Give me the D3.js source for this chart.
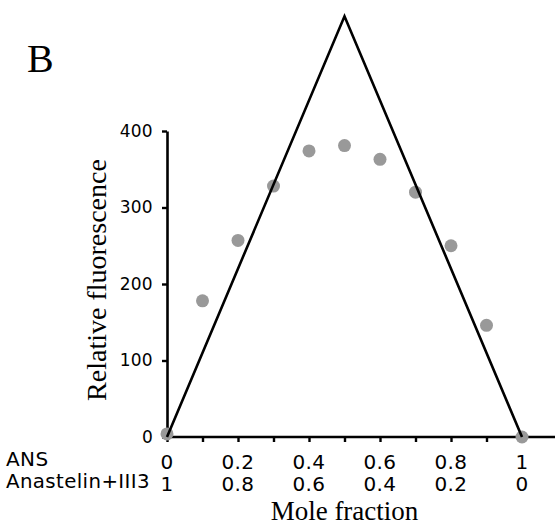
<!DOCTYPE html>
<html>
<head>
<meta charset="utf-8">
<script src="https://cdn.jsdelivr.net/npm/d3@7"></script>
<style>
  body { margin: 0; background: #fff; }
  svg { display: block; }
  .serif { font-family: "Liberation Serif", "Times New Roman", serif; }
  .sans { font-family: "DejaVu Sans", Verdana, sans-serif; }
</style>
</head>
<body>
<div id="chart"></div>
<script>
// Mole fraction of ANS
var moleFraction = [0, 0.1, 0.2, 0.3, 0.4, 0.5, 0.6, 0.7, 0.8, 0.9, 1];
// Measured fluorescence (grey dots)
var fluorescence = [4, 178, 257, 328, 374, 381, 363, 320, 250, 146, 0];
// Ideal triangle (black line)
var idealX = [0, 0.5, 1];
var idealY = [0, 550, 0];
// Axis ticks
var xTicks = [0, 0.1, 0.2, 0.3, 0.4, 0.5, 0.6, 0.7, 0.8, 0.9, 1];
var xLabelTicks = [0, 0.2, 0.4, 0.6, 0.8, 1];
var yTicks = [0, 100, 200, 300, 400];

var W = 555, H = 527;

var svg = d3.select('#chart').append('svg')
  .attr('width', W)
  .attr('height', H);

var x = d3.scaleLinear().domain([0, 1]).range([167, 522]);
var y = d3.scaleLinear().domain([0, 400]).range([437, 131]);

// panel letter
svg.append('text')
  .attr('class', 'serif')
  .attr('x', 27)
  .attr('y', 72)
  .style('font-size', '40px')
  .text('B');

// y axis
var yAxis = svg.append('g')
  .attr('transform', 'translate(' + x(0) + ',0)')
  .call(d3.axisLeft(y).tickValues(yTicks).tickSize(5).tickSizeOuter(0).tickPadding(9));
yAxis.select('.domain').attr('stroke-width', 2.6);
yAxis.selectAll('.tick line').attr('stroke-width', 2.4);
yAxis.selectAll('.tick text')
  .attr('class', 'sans')
  .style('font-size', '17px')
  .style('letter-spacing', '0.3px')
  .attr('fill', '#000');

// x axis (line runs on to the right edge)
var xAxis = svg.append('g')
  .attr('transform', 'translate(0,' + y(0) + ')')
  .call(d3.axisBottom(x).tickValues(xTicks).tickSize(5).tickSizeOuter(0).tickFormat(''));
xAxis.select('.domain')
  .attr('d', 'M' + x(0) + ',0H' + W)
  .attr('stroke-width', 2.6);
xAxis.selectAll('.tick line').attr('stroke-width', 2.4);

// two rows of x labels
var rows = svg.append('g').attr('class', 'sans')
  .style('font-size', '20px')
  .style('letter-spacing', '0.4px');
rows.selectAll('text.r1')
  .data(xLabelTicks)
  .enter().append('text')
  .attr('class', 'r1')
  .attr('x', function(d) { return x(d); })
  .attr('y', 469)
  .attr('text-anchor', 'middle')
  .text(function(d) { return d3.format('~g')(d); });
rows.selectAll('text.r2')
  .data(xLabelTicks)
  .enter().append('text')
  .attr('class', 'r2')
  .attr('x', function(d) { return x(d); })
  .attr('y', 491)
  .attr('text-anchor', 'middle')
  .text(function(d) { return d3.format('~g')(+(1 - d).toFixed(1)); });

rows.append('text').attr('x', 6).attr('y', 466).text('ANS');
rows.append('text').attr('x', 6).attr('y', 488)
  .attr('textLength', 144).attr('lengthAdjust', 'spacingAndGlyphs')
  .text('Anastelin+III3');

// axis titles
svg.append('text')
  .attr('class', 'serif')
  .attr('x', x(0.5))
  .attr('y', 520)
  .attr('text-anchor', 'middle')
  .style('font-size', '27px')
  .text('Mole fraction');

svg.append('text')
  .attr('class', 'serif')
  .attr('transform', 'translate(106,' + 280 + ') rotate(-90)')
  .attr('text-anchor', 'middle')
  .style('font-size', '28px')
  .text('Relative fluorescence');

// data points
svg.append('g').selectAll('circle')
  .data(moleFraction)
  .enter().append('circle')
  .attr('cx', function(d) { return x(d); })
  .attr('cy', function(d, i) { return y(fluorescence[i]); })
  .attr('r', 6.5)
  .attr('fill', '#999');

// ideal line
var line = d3.line()
  .x(function(d) { return x(d); })
  .y(function(d, i) { return y(idealY[i]); });

svg.append('path')
  .datum(idealX)
  .attr('d', line)
  .attr('fill', 'none')
  .attr('stroke', '#000')
  .attr('stroke-width', 2.6)
  .attr('stroke-linejoin', 'miter');
</script>
</body>
</html>
